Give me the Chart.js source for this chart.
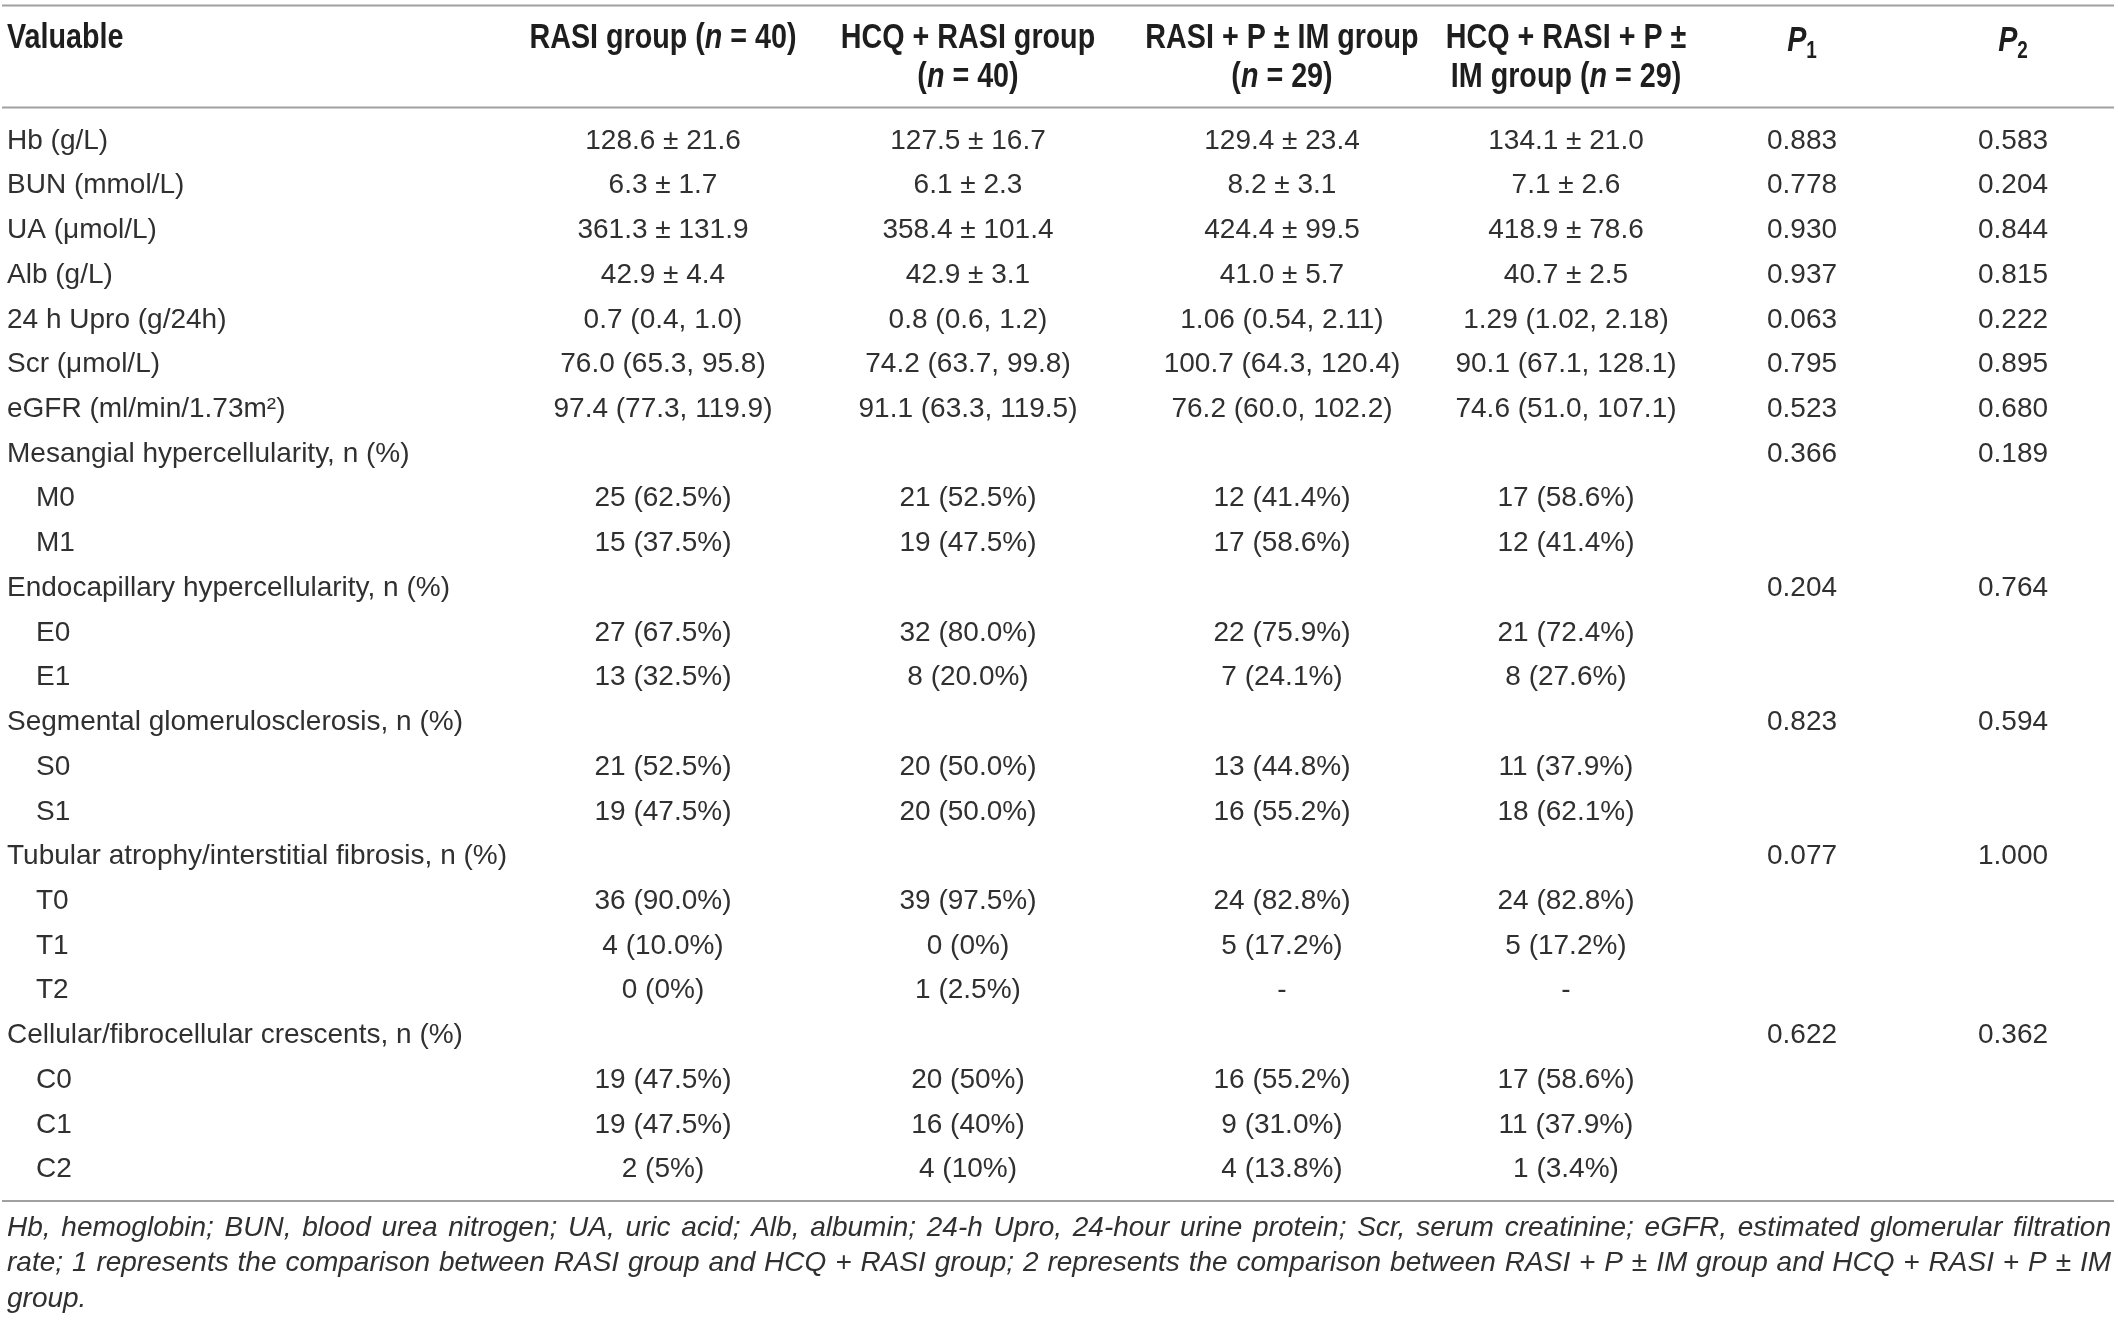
<!DOCTYPE html>
<html>
<head>
<meta charset="utf-8">
<script src="https://cdn.jsdelivr.net/npm/chart.js@4.4.1/dist/chart.umd.min.js"></script>
<style>
  html, body { margin: 0; padding: 0; background: #fff; }
  #wrap { width: 2118px; height: 1323px; }
</style>
</head>
<body>
<div id="wrap"><canvas id="tableChart" width="2118" height="1323"></canvas></div>
<script>
// row labels (first column)
const rowLabels = [
  "Hb (g/L)", "BUN (mmol/L)", "UA (\u03bcmol/L)", "Alb (g/L)", "24 h Upro (g/24h)",
  "Scr (\u03bcmol/L)", "eGFR (ml/min/1.73m\u00b2)",
  "Mesangial hypercellularity, n (%)", "M0", "M1",
  "Endocapillary hypercellularity, n (%)", "E0", "E1",
  "Segmental glomerulosclerosis, n (%)", "S0", "S1",
  "Tubular atrophy/interstitial fibrosis, n (%)", "T0", "T1", "T2",
  "Cellular/fibrocellular crescents, n (%)", "C0", "C1", "C2"
];

// group columns
const rasiGroup = ["128.6 \u00b1 21.6", "6.3 \u00b1 1.7", "361.3 \u00b1 131.9", "42.9 \u00b1 4.4", "0.7 (0.4, 1.0)",
  "76.0 (65.3, 95.8)", "97.4 (77.3, 119.9)", "", "25 (62.5%)", "15 (37.5%)", "", "27 (67.5%)", "13 (32.5%)",
  "", "21 (52.5%)", "19 (47.5%)", "", "36 (90.0%)", "4 (10.0%)", "0 (0%)", "", "19 (47.5%)", "19 (47.5%)", "2 (5%)"];
const hcqRasiGroup = ["127.5 \u00b1 16.7", "6.1 \u00b1 2.3", "358.4 \u00b1 101.4", "42.9 \u00b1 3.1", "0.8 (0.6, 1.2)",
  "74.2 (63.7, 99.8)", "91.1 (63.3, 119.5)", "", "21 (52.5%)", "19 (47.5%)", "", "32 (80.0%)", "8 (20.0%)",
  "", "20 (50.0%)", "20 (50.0%)", "", "39 (97.5%)", "0 (0%)", "1 (2.5%)", "", "20 (50%)", "16 (40%)", "4 (10%)"];
const rasiPGroup = ["129.4 \u00b1 23.4", "8.2 \u00b1 3.1", "424.4 \u00b1 99.5", "41.0 \u00b1 5.7", "1.06 (0.54, 2.11)",
  "100.7 (64.3, 120.4)", "76.2 (60.0, 102.2)", "", "12 (41.4%)", "17 (58.6%)", "", "22 (75.9%)", "7 (24.1%)",
  "", "13 (44.8%)", "16 (55.2%)", "", "24 (82.8%)", "5 (17.2%)", "-", "", "16 (55.2%)", "9 (31.0%)", "4 (13.8%)"];
const hcqRasiPGroup = ["134.1 \u00b1 21.0", "7.1 \u00b1 2.6", "418.9 \u00b1 78.6", "40.7 \u00b1 2.5", "1.29 (1.02, 2.18)",
  "90.1 (67.1, 128.1)", "74.6 (51.0, 107.1)", "", "17 (58.6%)", "12 (41.4%)", "", "21 (72.4%)", "8 (27.6%)",
  "", "11 (37.9%)", "18 (62.1%)", "", "24 (82.8%)", "5 (17.2%)", "-", "", "17 (58.6%)", "11 (37.9%)", "1 (3.4%)"];

// p values
const p1Values = ["0.883", "0.778", "0.930", "0.937", "0.063", "0.795", "0.523", "0.366", "", "", "0.204", "", "",
  "0.823", "", "", "0.077", "", "", "", "0.622", "", "", ""];
const p2Values = ["0.583", "0.204", "0.844", "0.815", "0.222", "0.895", "0.680", "0.189", "", "", "0.764", "", "",
  "0.594", "", "", "1.000", "", "", "", "0.362", "", "", ""];

// header text, one entry per column, lines of [text, italic, subscript]
const headers = [
  [[["Valuable"]]],
  [[["RASI group ("], ["n", 1], [" = 40)"]]],
  [[["HCQ + RASI group"]], [["("], ["n", 1], [" = 40)"]]],
  [[["RASI + P \u00b1 IM group"]], [["("], ["n", 1], [" = 29)"]]],
  [[["HCQ + RASI + P \u00b1"]], [["IM group ("], ["n", 1], [" = 29)"]]],
  [[["P", 1], ["1", 0, 1]]],
  [[["P", 1], ["2", 0, 1]]]
];

const footnoteLines = [
  "Hb, hemoglobin; BUN, blood urea nitrogen; UA, uric acid; Alb, albumin; 24-h Upro, 24-hour urine protein; Scr, serum creatinine; eGFR, estimated glomerular filtration",
  "rate; 1 represents the comparison between RASI group and HCQ + RASI group; 2 represents the comparison between RASI + P \u00b1 IM group and HCQ + RASI + P \u00b1 IM",
  "group."
];

const columns = [rowLabels, rasiGroup, hcqRasiGroup, rasiPGroup, hcqRasiPGroup, p1Values, p2Values];

// layout
const colX = [7, 663, 968, 1282, 1566, 1802, 2013];
const FONT = '"Liberation Sans", Arial, Helvetica, sans-serif';
const TEXT = '#303030';
const RULE = '#a0a0a0';

function isSubRow(label) {
  return /^[MESTC]\d$/.test(label);
}

// draw a line made of styled pieces (bold header, condensed)
function drawRich(ctx, parts, x, y, align, size) {
  const scaleX = 0.82;
  let total = 0;
  const fontOf = p => (p[1] ? 'italic ' : '') + '700 ' + (p[2] ? size * 0.66 : size) + 'px ' + FONT;
  parts.forEach(p => {
    ctx.font = fontOf(p);
    total += ctx.measureText(p[0]).width * scaleX;
  });
  let cx = align === 'left' ? x : x - total / 2;
  parts.forEach(p => {
    ctx.font = fontOf(p);
    const tw = ctx.measureText(p[0]).width;
    ctx.save();
    ctx.translate(cx, y + (p[2] ? size * 0.3 : 0));
    ctx.scale(scaleX, 1);
    ctx.fillText(p[0], 0, 0);
    ctx.restore();
    cx += tw * scaleX;
  });
}

const tablePlugin = {
  id: 'tablePlugin',
  afterDatasetsDraw(chart) {
    const ctx = chart.ctx;
    const area = chart.chartArea;
    const xs = chart.scales.x;
    ctx.save();
    ctx.fillStyle = '#1e1e1e';
    ctx.textBaseline = 'middle';

    // rules
    ctx.strokeStyle = RULE;
    ctx.lineWidth = 2;
    [area.top - 113, area.top - 11, area.bottom + 9].forEach(y => {
      ctx.beginPath();
      ctx.moveTo(xs.getPixelForValue(2), y);
      ctx.lineTo(xs.getPixelForValue(2114), y);
      ctx.stroke();
    });

    // header
    headers.forEach((lines, c) => {
      const x = xs.getPixelForValue(colX[c]);
      lines.forEach((parts, li) => {
        const y = area.top - 80 + li * 39 + (c >= 5 ? 3 : 0);
        drawRich(ctx, parts, x, y, c === 0 ? 'left' : 'center', 35);
      });
    });

    // body cells from dataset elements
    ctx.fillStyle = TEXT;
    ctx.font = '400 28px ' + FONT;
    chart.data.datasets.forEach((ds, c) => {
      const meta = chart.getDatasetMeta(c);
      meta.data.forEach((pt, i) => {
        const txt = columns[c][i];
        if (!txt) return;
        if (c === 0) {
          ctx.textAlign = 'left';
          ctx.fillText(txt, pt.x + (isSubRow(txt) ? 29 : 0), pt.y);
        } else {
          ctx.textAlign = 'center';
          ctx.fillText(txt, pt.x, pt.y);
        }
      });
    });

    // footnote, justified
    ctx.textAlign = 'left';
    ctx.font = 'italic 400 28px ' + FONT;
    const left = xs.getPixelForValue(7);
    const right = xs.getPixelForValue(2111);
    const space = ctx.measureText(' ').width;
    footnoteLines.forEach((line, li) => {
      const y = area.bottom + 36 + li * 35.5;
      const ln = line.split(' ');
      const widths = ln.map(wd => ctx.measureText(wd).width);
      const sum = widths.reduce((a, b) => a + b, 0);
      const last = li === footnoteLines.length - 1;
      const gap = last || ln.length < 2 ? space : (right - left - sum) / (ln.length - 1);
      let x = left;
      ln.forEach((wd, k) => {
        ctx.fillText(wd, x, y);
        x += widths[k] + gap;
      });
    });
    ctx.restore();
  }
};

const datasets = columns.map((col, c) => ({
  label: 'col' + c,
  data: rowLabels.map((_, i) => ({ x: colX[c], y: i })),
  pointRadius: 0,
  pointHoverRadius: 0
}));

new Chart(document.getElementById('tableChart'), {
  type: 'scatter',
  data: { datasets: datasets },
  options: {
    responsive: false,
    animation: false,
    devicePixelRatio: 1,
    layout: { padding: { left: 0, right: 0, top: 118.5, bottom: 131 } },
    plugins: { legend: { display: false }, tooltip: { enabled: false } },
    scales: {
      x: { type: 'linear', min: 0, max: 2118, display: false },
      y: { type: 'linear', min: -0.5, max: rowLabels.length - 0.5, reverse: true, display: false }
    }
  },
  plugins: [tablePlugin]
});
</script>
</body>
</html>
